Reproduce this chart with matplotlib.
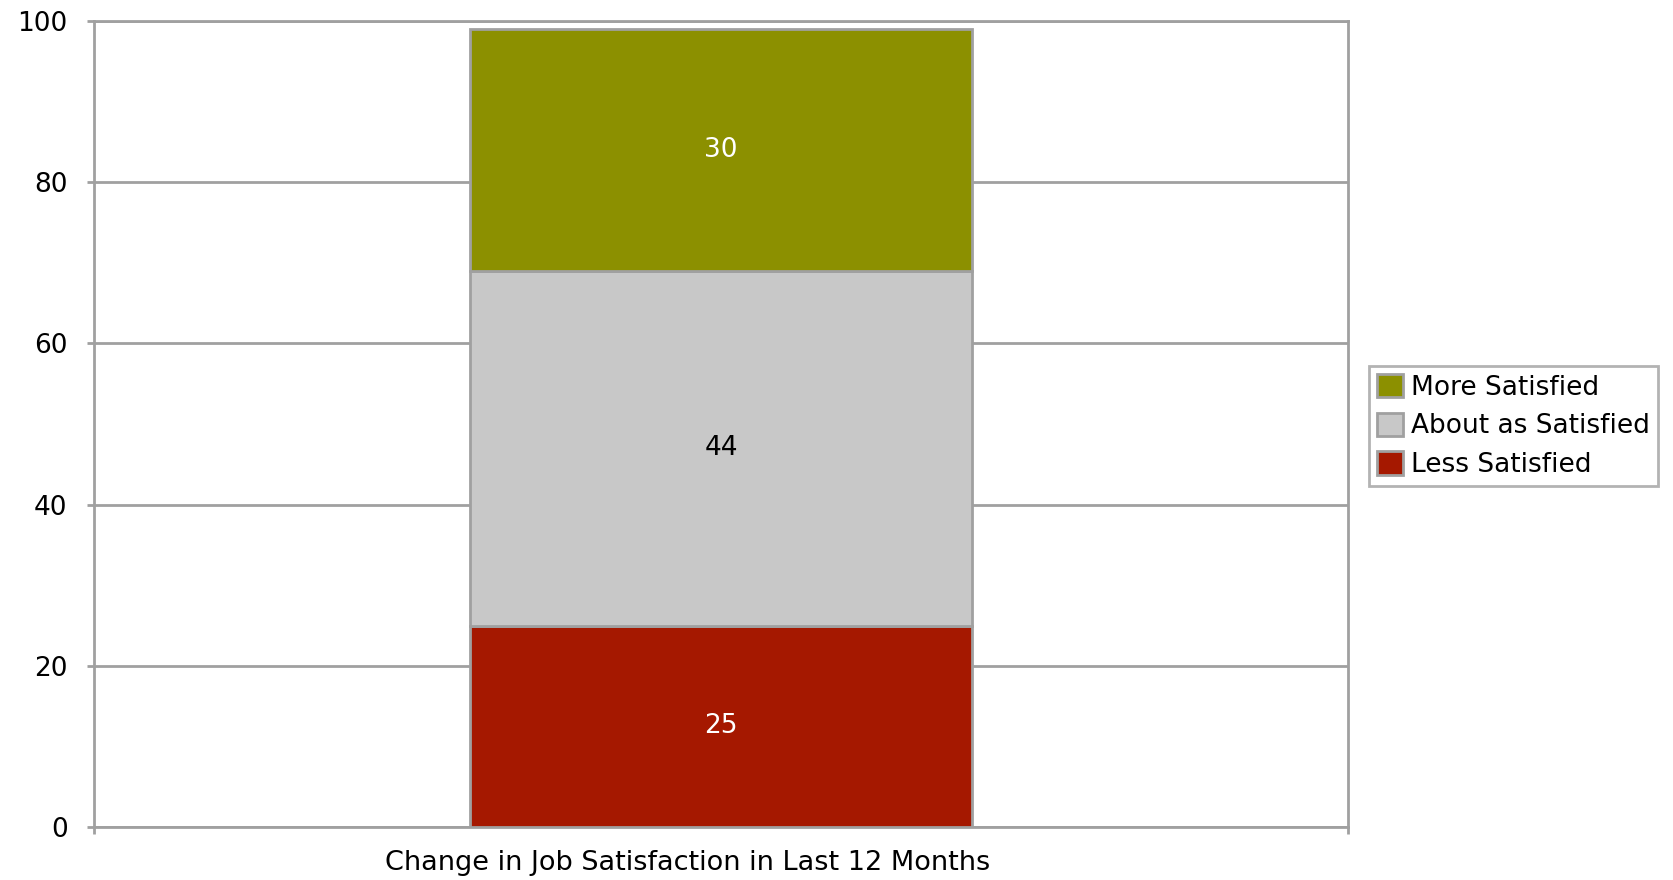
#!/usr/bin/env python
"""Stacked bar of change in job satisfaction over the last 12 months."""

import matplotlib.pyplot as plt
from matplotlib.patches import Patch

CATEGORY = "Change in Job Satisfaction in Last 12 Months"
SERIES = ["Less Satisfied", "About as Satisfied", "More Satisfied"]
VALUES = [25, 44, 30]
COLORS = ["#a51800", "#c8c8c8", "#8c9000"]
LABEL_COLORS = ["white", "black", "white"]
Y_TICKS = [0, 20, 40, 60, 80, 100]

GRID_GRAY = "#a0a0a0"
FONT_SIZE = 19

plt.rcParams["font.family"] = ["Verdana", "DejaVu Sans"]

W, H = 1673, 880
fig = plt.figure(figsize=(W / 100, H / 100), dpi=100)
left, right, top, bottom = 94, 1348, 21, 827
ax = fig.add_axes([left / W, 1 - bottom / H, (right - left) / W, (bottom - top) / H])

bottom_val = 0
for name, value, color, label_color in zip(SERIES, VALUES, COLORS, LABEL_COLORS):
    ax.bar(0, value, width=0.4, bottom=bottom_val, color=color,
           edgecolor=GRID_GRAY, linewidth=2, zorder=3)
    ax.text(0, bottom_val + value / 2, str(value), ha="center", va="center",
            color=label_color, fontsize=FONT_SIZE, zorder=4)
    bottom_val += value

ax.set_xlim(-0.5, 0.5)
ax.set_ylim(0, 100)
ax.set_yticks(Y_TICKS)
ax.tick_params(axis="y", length=5, width=2, color=GRID_GRAY, labelsize=FONT_SIZE, pad=14)
ax.set_xticks([-0.5, 0.5], labels=["", ""])
ax.tick_params(axis="x", length=5, width=2, color=GRID_GRAY)
ax.yaxis.grid(True, color=GRID_GRAY, linewidth=2, zorder=0)
ax.set_axisbelow(True)
for spine in ax.spines.values():
    spine.set_color(GRID_GRAY)
    spine.set_linewidth(2)

ax.text((688 - left) / (right - left), -0.045, CATEGORY, transform=ax.transAxes,
        ha="center", va="center", fontsize=FONT_SIZE + 0.5)

handles = [Patch(facecolor=c, edgecolor=GRID_GRAY, linewidth=2) for c in COLORS]
legend = fig.legend(handles[::-1], SERIES[::-1], loc="center left",
                    bbox_to_anchor=(1369 / W, 1 - 426 / H), fontsize=FONT_SIZE,
                    frameon=True, fancybox=False, edgecolor=GRID_GRAY,
                    handlelength=1.0, handleheight=1.0, handletextpad=0.3,
                    labelspacing=0.45, borderpad=0.3, borderaxespad=0)
legend.get_frame().set_linewidth(2)

fig.savefig("out.png", dpi=100)
plt.close(fig)
